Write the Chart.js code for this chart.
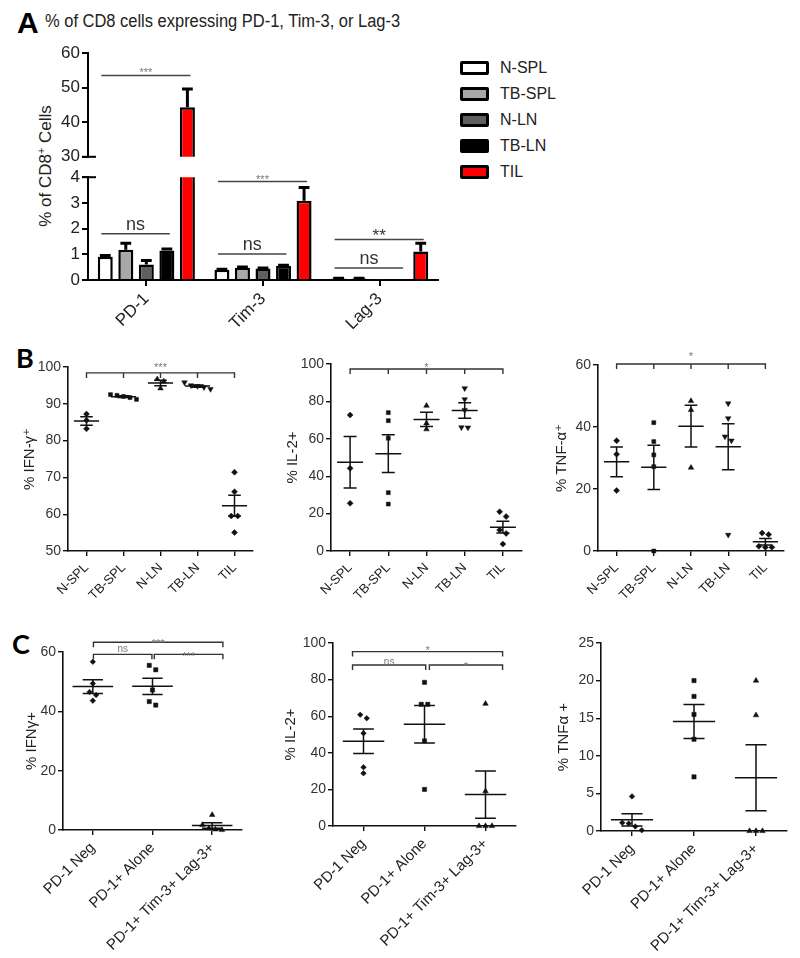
<!DOCTYPE html>
<html lang="en">
<head>
<meta charset="utf-8">
<title>CD8 cells expressing PD-1, Tim-3, Lag-3</title>
<script src="https://cdn.jsdelivr.net/npm/chart.js@4.4.1/dist/chart.umd.min.js"></script>
<style>
  html, body { margin:0; padding:0; background:#fff; }
  body { width:800px; height:958px; position:relative; overflow:hidden;
         font-family:'Liberation Sans', Arial, sans-serif; color:#222; }
  canvas { position:absolute; }
  .txt { position:absolute; white-space:nowrap; line-height:1; }
  .panel { font-family: Lato, 'Open Sans', sans-serif; font-weight:700; font-size:27px; color:#000; }
  #legendA { position:absolute; left:460px; top:55px; }
  .lg-row { display:flex; align-items:center; height:26.1px; }
  .lg-box { width:29px; height:14px; box-sizing:border-box; border:3px solid #000; border-radius:2px; }
  .lg-text { margin-left:11px; font-size:16px; color:#222; }
</style>
</head>
<body>
<div class="txt" style="left:17px;top:8px;font-weight:700;font-size:30px;color:#000;">A</div>
<div class="txt" style="left:45px;top:12px;font-size:18px;transform:scaleX(0.915);transform-origin:left top;">% of CD8 cells expressing PD-1, Tim-3, or Lag-3</div>
<div class="txt" style="left:45px;top:166px;font-size:17px;transform:translate(-50%,-50%) rotate(-90deg);">% of CD8<sup style="font-size:11px;">+</sup> Cells</div>
<div id="legendA"></div>
<div class="txt panel" style="left:16px;top:344px;">B</div>
<div class="txt panel" style="left:12px;top:630px;">C</div>

<canvas id="aUpper"></canvas>
<canvas id="aLower"></canvas>
<canvas id="b1"></canvas>
<canvas id="b2"></canvas>
<canvas id="b3"></canvas>
<canvas id="c1"></canvas>
<canvas id="c2"></canvas>
<canvas id="c3"></canvas>

<script>
// ================= DATA =================
// Panel A: mean % of CD8+ cells (bars) and upper SEM
const aCategories = ['PD-1', 'Tim-3', 'Lag-3'];
const aSeries = ['N-SPL', 'TB-SPL', 'N-LN', 'TB-LN', 'TIL'];
const aNSPL  = [0.90, 0.40, 0.06];
const aTBSPL = [1.18, 0.48, 0.06];
const aNLN   = [0.60, 0.45, 0.02];
const aTBLN  = [1.15, 0.55, 0.02];
const aTIL   = [44.3, 3.08, 1.11];
const aNSPLErr  = [0.05, 0.02, 0.01];
const aTBSPLErr = [0.25, 0.03, 0.01];
const aNLNErr   = [0.16, 0.02, 0.00];
const aTBLNErr  = [0.06, 0.02, 0.00];
const aTILErr   = [5.3, 0.52, 0.32];
const aUpperAxis = [30, 60, 10];   // min, max, step
const aLowerAxis = [0, 4, 1];

// Panel B: individual values per group
const bGroups = ['N-SPL', 'TB-SPL', 'N-LN', 'TB-LN', 'TIL'];
const bIFNg = [[87.2, 85.5, 83.2], [92.5, 92.3, 92.0, 91.7, 91.2], [96.7, 96.1, 94.2],
               [95.8, 95.0, 94.8, 94.5, 94.0], [71.4, 66.1, 59.5, 59.5, 55.0]];
const bIL2  = [[72.7, 44.2, 25.5], [74.0, 69.7, 60.3, 31.2, 25.1], [77.7, 68.3, 65.1],
               [87.0, 81.1, 75.4, 66.1, 66.0], [21.0, 18.4, 11.2, 9.4, 3.7]];
const bTNFa = [[35.6, 31.2, 19.5], [41.4, 35.3, 31.0, 27.2, 0.0], [48.4, 45.5, 26.9],
               [47.6, 42.8, 36.9, 35.6, 5.2], [5.8, 5.3, 1.5, 1.2, 1.2]];
const bIFNgAxis = [50, 100, 10];
const bIL2Axis  = [0, 100, 20];
const bTNFaAxis = [0, 60, 20];

// Panel C
const cGroups = ['PD-1 Neg', 'PD-1+ Alone', 'PD-1+ Tim-3+ Lag-3+'];
const cIFNg = [[56.7, 49.4, 46.5, 45.5, 43.6], [55.5, 54.0, 47.2, 43.3, 42.1], [5.1, 1.7, 0.6, 0.2, 0.0]];
const cIL2  = [[60.8, 58.9, 50.7, 32.1, 28.8], [78.5, 66.5, 66.5, 46.5, 20.0], [66.8, 19.0, 0.0, 0.0, 0.0]];
const cTNFa = [[4.6, 1.1, 1.0, 0.6, 0.1], [20.0, 17.9, 15.5, 12.2, 7.2], [20.0, 15.4, 0.0, 0.0, 0.0]];
const cIFNgAxis = [0, 60, 20];
const cIL2Axis  = [0, 100, 20];
const cTNFaAxis = [0, 25, 5];

// ================= STYLE / HELPERS =================
const FONT = "'Liberation Sans', Arial, 'DejaVu Sans', sans-serif";
Chart.defaults.font.family = FONT;
Chart.defaults.color = '#222';

function setupCanvas(id, g) {
  const c = document.getElementById(id);
  c.width = Math.round(g.r + g.pr - g.cl);
  c.height = Math.round(g.pt + (g.b - g.t) + g.xh);
  c.style.left = g.cl + 'px';
  c.style.top = (g.t - g.pt) + 'px';
  return c;
}

// side-by-side placement of points with (nearly) equal values
function spread(vals, gi, d, thr) {
  const idx = vals.map((v, i) => i).sort((a, b) => vals[b] - vals[a]);
  const out = new Array(vals.length);
  let cluster = [];
  const flush = () => {
    const m = cluster.length;
    cluster.forEach((i, j) => { out[i] = { x: gi + (j - (m - 1) / 2) * d, y: vals[i] }; });
    cluster = [];
  };
  idx.forEach(i => {
    if (cluster.length && Math.abs(vals[cluster[cluster.length - 1]] - vals[i]) >= thr) flush();
    cluster.push(i);
  });
  flush();
  return out;
}

const errorBarPlugin = {
  id: 'errorBars',
  afterDatasetsDraw(chart, _a, opts) {
    const { ctx, chartArea: a } = chart; const y = chart.scales.y;
    ctx.save();
    ctx.beginPath(); ctx.rect(a.left - 2, a.top, a.right - a.left + 4, a.bottom - a.top); ctx.clip();
    ctx.strokeStyle = '#000'; ctx.lineWidth = 3;
    chart.data.datasets.forEach((ds, di) => {
      chart.getDatasetMeta(di).data.forEach((bar, i) => {
        const e = opts.errors[di][i]; if (!e) return;
        const v = ds.data[i];
        const y0 = y.getPixelForValue(v), y1 = y.getPixelForValue(v + e);
        const cap = bar.width * 0.36;
        ctx.beginPath(); ctx.moveTo(bar.x, y0); ctx.lineTo(bar.x, y1);
        ctx.moveTo(bar.x - cap, y1); ctx.lineTo(bar.x + cap, y1); ctx.stroke();
      });
    });
    ctx.restore();
  }
};

const sigPlugin = {
  id: 'sigLines',
  afterDraw(chart, _a, opts) {
    const { ctx } = chart; const y = chart.scales.y;
    ctx.save();
    (opts.items || []).forEach(s => {
      const xa = chart.getDatasetMeta(s.from).data[s.cat].x - 4;
      const xb = chart.getDatasetMeta(s.to).data[s.cat].x + 3;
      const yy = y.getPixelForValue(s.value);
      ctx.strokeStyle = '#444'; ctx.lineWidth = 1.5;
      ctx.beginPath(); ctx.moveTo(xa, yy); ctx.lineTo(xb, yy); ctx.stroke();
      ctx.fillStyle = s.color; ctx.font = s.size + 'px ' + FONT;
      ctx.textAlign = 'center'; ctx.textBaseline = 'alphabetic';
      ctx.fillText(s.text, (xa + xb) / 2, yy + s.dy);
    });
    ctx.restore();
  }
};

const breakPlugin = {
  id: 'breakMark',
  afterDraw(chart, _a, opts) {
    if (!opts.at) return;
    const { ctx, chartArea: a } = chart;
    const yy = opts.at === 'bottom' ? a.bottom : a.top;
    ctx.save(); ctx.strokeStyle = '#000'; ctx.lineWidth = 2;
    ctx.beginPath(); ctx.moveTo(a.left - 6, yy); ctx.lineTo(a.left + 8, yy); ctx.stroke();
    ctx.restore();
  }
};

const meanSemPlugin = {
  id: 'meanSem',
  afterDatasetsDraw(chart, _a, opts) {
    const { ctx, scales: { x, y } } = chart;
    ctx.save(); ctx.strokeStyle = '#111'; ctx.lineWidth = 1.5;
    (opts.groups || []).forEach((vals, i) => {
      const n = vals.length, m = vals.reduce((s, v) => s + v, 0) / n;
      const sd = Math.sqrt(vals.reduce((s, v) => s + (v - m) ** 2, 0) / (n - 1));
      const se = sd / Math.sqrt(n);
      const px = v => x.getPixelForValue(v);
      const ym = y.getPixelForValue(m), yt = y.getPixelForValue(m + se), yb = y.getPixelForValue(m - se);
      ctx.beginPath();
      ctx.moveTo(px(i - 0.34), ym); ctx.lineTo(px(i + 0.34), ym);
      ctx.moveTo(px(i), yt); ctx.lineTo(px(i), yb);
      ctx.moveTo(px(i - 0.17), yt); ctx.lineTo(px(i + 0.17), yt);
      ctx.moveTo(px(i - 0.17), yb); ctx.lineTo(px(i + 0.17), yb);
      ctx.stroke();
    });
    ctx.restore();
  }
};

const bracketPlugin = {
  id: 'brackets',
  afterDraw(chart, _a, opts) {
    const { ctx, scales: { x, y } } = chart;
    ctx.save();
    (opts.items || []).forEach(b => {
      const x1 = x.getPixelForValue(b.from), x2 = x.getPixelForValue(b.to), yy = y.getPixelForValue(b.value);
      ctx.strokeStyle = '#333'; ctx.lineWidth = 1.4;
      ctx.beginPath();
      ctx.moveTo(x1, yy + 5); ctx.lineTo(x1, yy); ctx.lineTo(x2, yy); ctx.lineTo(x2, yy + 5);
      (b.ticks || []).forEach(t => { const tx = x.getPixelForValue(t); ctx.moveTo(tx, yy); ctx.lineTo(tx, yy + 5); });
      ctx.stroke();
      ctx.fillStyle = '#777'; ctx.font = (b.size || 11) + 'px ' + FONT;
      ctx.textAlign = 'center'; ctx.textBaseline = 'alphabetic';
      ctx.fillText(b.text, (x1 + x2) / 2, yy + b.dy);
    });
    ctx.restore();
  }
};

// ================= PANEL A =================
const aColors = ['#ffffff', '#a8a8a8', '#5f5f5f', '#000000', '#ff0000'];
const aValues = [aNSPL, aTBSPL, aNLN, aTBLN, aTIL];
const aErrors = [aNSPLErr, aTBSPLErr, aNLNErr, aTBLNErr, aTILErr];
const aDatasets = () => aSeries.map((name, i) => ({
  label: name, data: aValues[i], backgroundColor: aColors[i], borderColor: '#000',
  borderWidth: 2.5, borderSkipped: 'start', clip: 0, categoryPercentage: 0.88, barPercentage: 0.73
}));
const aYScale = (axis, g) => ({
  min: axis[0], max: axis[1], afterFit: s => { s.width = g.l - g.cl; },
  ticks: { stepSize: axis[2], font: { size: 17 }, color: '#222', padding: 2 },
  grid: { drawOnChartArea: false, tickLength: 6, color: '#000', lineWidth: 2 },
  border: { color: '#000', width: 2 }
});
const baseOpts = { responsive: false, maintainAspectRatio: false, animation: false, events: [], devicePixelRatio: 1 };

const gAU = { l: 88, r: 438, t: 53, b: 157, cl: 40, pt: 15, pr: 12, xh: 12 };
new Chart(setupCanvas('aUpper', gAU), {
  type: 'bar',
  data: { labels: aCategories, datasets: aDatasets() },
  options: Object.assign({}, baseOpts, {
    layout: { padding: { top: gAU.pt, right: gAU.pr, bottom: gAU.xh, left: 0 } },
    plugins: {
      legend: { display: false }, tooltip: { enabled: false },
      errorBars: { errors: aErrors },
      breakMark: { at: 'bottom' },
      sigLines: { items: [ { cat: 0, from: 0, to: 4, value: 53.5, text: '***', size: 11, color: '#777', dy: 1 } ] }
    },
    scales: { x: { display: false, grid: { offset: false } }, y: aYScale(aUpperAxis, gAU) }
  }),
  plugins: [errorBarPlugin, breakPlugin, sigPlugin]
});

const gAL = { l: 88, r: 438, t: 175, b: 280, cl: 40, pt: 10, pr: 12, xh: 65 };
const chartALow = new Chart(setupCanvas('aLower', gAL), {
  type: 'bar',
  data: { labels: aCategories, datasets: aDatasets() },
  options: Object.assign({}, baseOpts, {
    layout: { padding: { top: gAL.pt, right: gAL.pr, bottom: 0, left: 0 } },
    plugins: {
      legend: { display: false }, tooltip: { enabled: false },
      errorBars: { errors: aErrors },
      breakMark: { at: 'top' },
      sigLines: { items: [
        { cat: 0, from: 0, to: 3, value: 1.8,  text: 'ns',  size: 18, color: '#333', dy: -4 },
        { cat: 1, from: 0, to: 4, value: 3.83, text: '***', size: 11, color: '#777', dy: 1 },
        { cat: 1, from: 0, to: 3, value: 1.01, text: 'ns',  size: 18, color: '#333', dy: -4 },
        { cat: 2, from: 0, to: 4, value: 1.58, text: '**',  size: 17, color: '#333', dy: 2 },
        { cat: 2, from: 0, to: 3, value: 0.47, text: 'ns',  size: 18, color: '#333', dy: -4 }
      ] }
    },
    scales: {
      x: {
        afterFit: s => { s.height = gAL.xh; },
        ticks: { minRotation: 45, maxRotation: 45, autoSkip: false, font: { size: 17 }, color: '#222', padding: 3 },
        grid: { offset: false, drawOnChartArea: false, tickLength: 6, color: '#000', lineWidth: 2 },
        border: { color: '#000', width: 2 }
      },
      y: aYScale(aLowerAxis, gAL)
    }
  }),
  plugins: [errorBarPlugin, breakPlugin, sigPlugin]
});

// HTML legend built from the chart's own legend items
(function buildLegend() {
  const host = document.getElementById('legendA');
  Chart.defaults.plugins.legend.labels.generateLabels(chartALow).forEach(it => {
    const row = document.createElement('div'); row.className = 'lg-row';
    const box = document.createElement('div'); box.className = 'lg-box';
    box.style.background = it.fillStyle; box.style.borderColor = it.strokeStyle;
    const tx = document.createElement('div'); tx.className = 'lg-text'; tx.textContent = it.text;
    row.appendChild(box); row.appendChild(tx); host.appendChild(row);
  });
})();

// ================= PANELS B & C =================
function scatterPanel(id, g, cats, groups, axis, yTitle, styles, brackets, xFont) {
  const canvas = setupCanvas(id, g);
  const n = cats.length;
  const d = 6.5 / ((g.r - g.l) / n);
  const thr = 5.5 * (axis[1] - axis[0]) / (g.b - g.t);
  const datasets = groups.map((vals, gi) => ({
    label: cats[gi], data: spread(vals, gi, d, thr),
    pointStyle: styles[gi][0], pointRotation: styles[gi][1], pointRadius: styles[gi][2],
    pointBackgroundColor: '#111', pointBorderColor: '#111', pointBorderWidth: 0.5, clip: false
  }));
  const axisGrid = { drawOnChartArea: false, tickLength: 5, color: '#111', lineWidth: 1.4 };
  const axisBorder = { color: '#111', width: 1.6 };
  return new Chart(canvas, {
    type: 'scatter',
    data: { datasets },
    options: Object.assign({}, baseOpts, {
      layout: { padding: { top: g.pt, right: g.pr, bottom: 0, left: 0 } },
      plugins: {
        legend: { display: false }, tooltip: { enabled: false },
        meanSem: { groups }, brackets: { items: brackets }
      },
      scales: {
        x: {
          type: 'linear', min: -0.5, max: n - 0.5,
          afterBuildTicks: ax => { ax.ticks = cats.map((_, i) => ({ value: i })); },
          afterFit: ax => { ax.height = g.xh; },
          ticks: { callback: v => cats[v], minRotation: 45, maxRotation: 45, autoSkip: false,
                   font: { size: xFont }, color: '#222', padding: 4 },
          grid: axisGrid, border: axisBorder
        },
        y: {
          min: axis[0], max: axis[1],
          afterFit: ax => { ax.width = g.l - g.cl; },
          ticks: { stepSize: axis[2], font: { size: 14 }, color: '#333', padding: 2 },
          grid: axisGrid, border: axisBorder,
          title: { display: true, text: yTitle, font: { size: 15 }, color: '#222', padding: { top: 0, bottom: 0 } }
        }
      }
    }),
    plugins: [meanSemPlugin, bracketPlugin]
  });
}

const bStyles = [['rectRot', 0, 3], ['rect', 0, 2.8], ['triangle', 0, 3.2], ['triangle', 180, 3.2], ['rectRot', 0, 3]];
const cStyles = [['rectRot', 0, 2.8], ['rect', 0, 3], ['triangle', 0, 3.2]];

scatterPanel('b1', { l: 68, r: 253, t: 367, b: 551, cl: 21, pt: 22, pr: 12, xh: 58 },
  bGroups, bIFNg, bIFNgAxis, '% IFN-\u03b3\u207a', bStyles,
  [{ from: 0, to: 4, ticks: [1, 2, 3], value: 98.4, text: '***', dy: -1.4 }], 13);
scatterPanel('b2', { l: 331, r: 522, t: 364, b: 551, cl: 284, pt: 22, pr: 10, xh: 58 },
  bGroups, bIL2, bIL2Axis, '% IL-2+', bStyles,
  [{ from: 0, to: 4, ticks: [1, 2, 3], value: 97.3, text: '*', dy: 1.6 }], 13);
scatterPanel('b3', { l: 598, r: 784, t: 365, b: 551, cl: 553, pt: 30, pr: 12, xh: 58 },
  bGroups, bTNFa, bTNFaAxis, '% TNF-\u03b1\u207a', bStyles,
  [{ from: 0, to: 4, ticks: [1, 2, 3], value: 60.3, text: '*', dy: -4.4 }], 13);

scatterPanel('c1', { l: 63, r: 242, t: 652, b: 830, cl: 23, pt: 22, pr: 12, xh: 125 },
  cGroups, cIFNg, cIFNgAxis, '% IFN\u03b3+', cStyles,
  [{ from: 0.01, to: 2.18, value: 63.3, text: '***', dy: 4.6 },
   { from: 0.01, to: 0.99, value: 59.2, text: 'ns', size: 10, dy: -2.4 },
   { from: 1.03, to: 2.18, value: 59.2, text: '***', dy: 5.6 }], 15);
scatterPanel('c2', { l: 333, r: 516, t: 643, b: 826, cl: 282, pt: 14, pr: 12, xh: 128 },
  cGroups, cIL2, cIL2Axis, '% IL-2+', cStyles,
  [{ from: -0.18, to: 2.28, value: 95.3, text: '*', dy: 2.6 },
   { from: -0.18, to: 1.02, value: 88, text: 'ns', size: 10, dy: -0.4 },
   { from: 1.08, to: 2.28, value: 88, text: '*', dy: 4.6 }], 15);
scatterPanel('c3', { l: 601, r: 787, t: 643, b: 831, cl: 555, pt: 14, pr: 10, xh: 125 },
  cGroups, cTNFa, cTNFaAxis, '% TNF\u03b1 +', cStyles, [], 15);
</script>
</body>
</html>
